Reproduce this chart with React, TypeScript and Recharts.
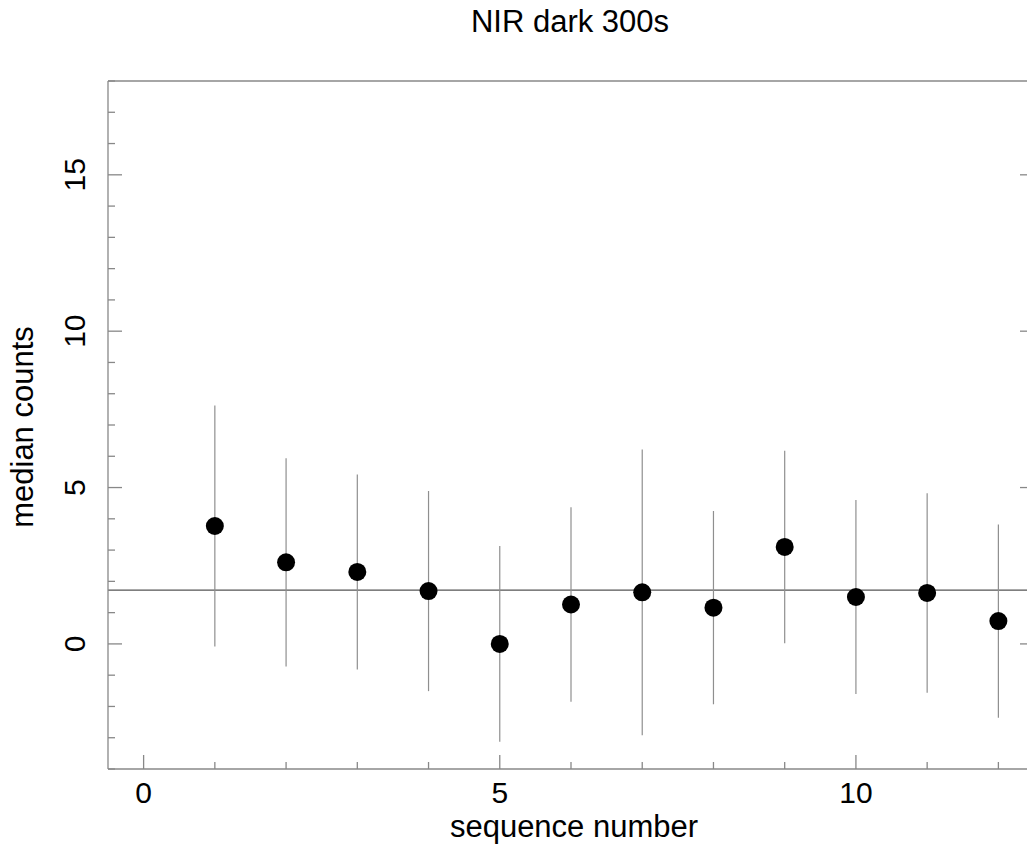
import { ScatterChart, Scatter, XAxis, YAxis, ErrorBar, ReferenceLine, Label } from "recharts";

const sequence = [1, 2, 3, 4, 5, 6, 7, 8, 9, 10, 11, 12];
const medianCounts = [3.77, 2.61, 2.3, 1.69, 0.0, 1.26, 1.65, 1.16, 3.1, 1.5, 1.63, 0.73];
const countErrors = [3.85, 3.33, 3.12, 3.2, 3.13, 3.11, 4.57, 3.09, 3.08, 3.1, 3.19, 3.09];
const meanLevel = 1.72;

const xTicks = [0, 1, 2, 3, 4, 5, 6, 7, 8, 9, 10, 11, 12];
const yTicks = [-4, -3, -2, -1, 0, 1, 2, 3, 4, 5, 6, 7, 8, 9, 10, 11, 12, 13, 14, 15, 16, 17, 18];
const labelledTicks = [0, 5, 10, 15];

const FONT = '"Liberation Sans", Arial, Helvetica, sans-serif';
const FRAME = "#888";
const TEXT = "#000";

const points = sequence.map((s, i) => ({ seq: s, median: medianCounts[i], err: countErrors[i] }));

// tick marks point inward on every side; majors are longer
const tickLen = (v: number) => (v % 5 === 0 ? 14 : 7);

const BottomTick = ({ x, y, payload }: any) => {
  const v = payload.value;
  return (
    <g>
      <line x1={x} y1={y} x2={x} y2={y - tickLen(v)} stroke={FRAME} strokeWidth={1.3} />
      {labelledTicks.includes(v) && (
        <text x={x} y={y + 34} textAnchor="middle" fontSize={30} fontFamily={FONT} fill={TEXT}>
          {v}
        </text>
      )}
    </g>
  );
};

const TopTick = ({ x, y, payload }: any) => (
  <line x1={x} y1={y} x2={x} y2={y + tickLen(payload.value)} stroke={FRAME} strokeWidth={1.3} />
);

const LeftTick = ({ x, y, payload }: any) => {
  const v = payload.value;
  return (
    <g>
      <line x1={x} y1={y} x2={x + tickLen(v)} y2={y} stroke={FRAME} strokeWidth={1.3} />
      {labelledTicks.includes(v) && (
        <text
          x={x - 23}
          y={y}
          textAnchor="middle"
          fontSize={30}
          fontFamily={FONT}
          fill={TEXT}
          transform={`rotate(-90, ${x - 23}, ${y})`}
        >
          {v}
        </text>
      )}
    </g>
  );
};

const RightTick = ({ x, y, payload }: any) => (
  <line x1={x} y1={y} x2={x - tickLen(payload.value)} y2={y} stroke={FRAME} strokeWidth={1.3} />
);

const Dot = (props: any) => <circle cx={props.cx} cy={props.cy} r={9} fill="#000" />;

export default function App() {
  return (
    <div
      style={{
        position: "fixed",
        left: 0,
        top: 0,
        width: 1027,
        height: 849,
        overflow: "hidden",
        background: "#fff",
      }}
    >
      <ScatterChart width={1040} height={849} margin={{ top: 61, right: 0, bottom: 40, left: 48 }}>
        <XAxis
          xAxisId="b"
          type="number"
          dataKey="seq"
          domain={[-0.5, 12.5]}
          ticks={xTicks}
          allowDataOverflow
          height={40}
          tickSize={0}
          tickMargin={0}
          tickLine={false}
          axisLine={{ stroke: FRAME, strokeWidth: 1.3 }}
          tick={<BottomTick />}
          interval={0}
        >
          <Label
            content={({ viewBox }: any) => (
              <text
                x={viewBox.x + viewBox.width / 2 + 3}
                y={viewBox.y + 68}
                textAnchor="middle"
                fontSize={31}
                fontFamily={FONT}
                fill={TEXT}
              >
                sequence number
              </text>
            )}
          />
        </XAxis>
        <XAxis
          xAxisId="t"
          orientation="top"
          type="number"
          domain={[-0.5, 12.5]}
          ticks={xTicks}
          allowDataOverflow
          height={20}
          tickSize={0}
          tickMargin={0}
          tickLine={false}
          axisLine={{ stroke: FRAME, strokeWidth: 1.3 }}
          tick={<TopTick />}
          interval={0}
        >
          <Label
            content={({ viewBox }: any) => (
              <text
                x={viewBox.x + viewBox.width / 2 - 1}
                y={viewBox.y - 29}
                textAnchor="middle"
                fontSize={31}
                fontFamily={FONT}
                fill={TEXT}
              >
                NIR dark 300s
              </text>
            )}
          />
        </XAxis>
        <YAxis
          yAxisId="l"
          type="number"
          dataKey="median"
          domain={[-4, 18]}
          ticks={yTicks}
          allowDataOverflow
          width={60}
          tickSize={0}
          tickMargin={0}
          tickLine={false}
          axisLine={{ stroke: FRAME, strokeWidth: 1.3 }}
          tick={<LeftTick />}
          interval={0}
        >
          <Label
            content={({ viewBox }: any) => {
              const cx = viewBox.x - 15;
              const cy = viewBox.y + viewBox.height / 2 + 2;
              return (
                <text
                  x={cx}
                  y={cy}
                  textAnchor="middle"
                  fontSize={31}
                  fontFamily={FONT}
                  fill={TEXT}
                  transform={`rotate(-90, ${cx}, ${cy})`}
                >
                  median counts
                </text>
              );
            }}
          />
        </YAxis>
        <YAxis
          yAxisId="r"
          orientation="right"
          type="number"
          domain={[-4, 18]}
          ticks={yTicks}
          allowDataOverflow
          width={6}
          tickSize={0}
          tickMargin={0}
          tickLine={false}
          axisLine={{ stroke: FRAME, strokeWidth: 1.3 }}
          tick={<RightTick />}
          interval={0}
        />
        <ReferenceLine xAxisId="b" yAxisId="l" y={meanLevel} stroke="#555" strokeWidth={1.2} />
        <Scatter
          xAxisId="b"
          yAxisId="l"
          data={points}
          shape={<Dot />}
          isAnimationActive={false}
        >
          <ErrorBar dataKey="err" direction="y" width={0} stroke="#8f8f8f" strokeWidth={1.2} isAnimationActive={false} />
        </Scatter>
      </ScatterChart>
    </div>
  );
}
